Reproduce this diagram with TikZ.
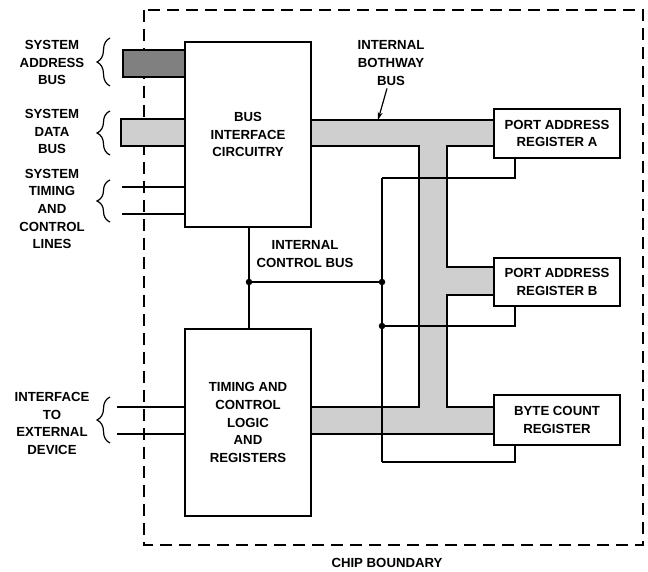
\documentclass[tikz,border=0pt]{standalone}
\usepackage{fontspec}
\setmainfont{Liberation Sans}
\usetikzlibrary{arrows.meta,decorations.pathreplacing}
\begin{document}
\begin{tikzpicture}[x=1pt,y=-1pt,
  box/.style={draw, fill=white, line width=1.4pt, inner sep=0pt, minimum width=126pt},
  lbl/.style={font=\bfseries\fontsize{13.2}{17.6}\selectfont, align=center, inner sep=0pt},
  wire/.style={line width=1.3pt},
  busline/.style={line width=1.1pt},
  brc/.style={line width=1.2pt, decorate, decoration={brace, amplitude=13pt}},
  jdot/.style={circle, fill, inner sep=0pt, minimum size=6.5pt},
  boundary/.style={line width=1.2pt, dash pattern=on 12pt off 7pt}
]
\useasboundingbox (0,0) rectangle (648,572);
% chip boundary
\draw[boundary] (144,10) rectangle (643,545);
% boxes (positions)
\path (248,134.5) node[box, minimum height=185pt, draw=none, fill=none] (bic) {};
\path (248,422.5) node[box, minimum height=187pt, draw=none, fill=none] (tcl) {};
\path (557,133.5) node[box, minimum height=49pt, draw=none, fill=none] (pa) {};
\path (557,282) node[box, minimum height=48pt, draw=none, fill=none] (pb) {};
\path (557,420) node[box, minimum height=50pt, draw=none, fill=none] (bc) {};
% levels
\coordinate (by1) at (0,120);
\coordinate (by2) at (0,146);
\coordinate (vx1) at (419,0);
\coordinate (vx2) at (447,0);
\coordinate (pb1) at (0,267);
\coordinate (pb2) at (0,295);
\coordinate (bc1) at (0,407);
\coordinate (bc2) at (0,434);
% internal bothway bus
\filldraw[busline, fill=black!19]
  (bic.east |- by1) -- (pa.west |- by1) -- (pa.west |- by2) -- (vx2 |- by2)
  -- (vx2 |- pb1) -- (pb.west |- pb1) -- (pb.west |- pb2) -- (vx2 |- pb2)
  -- (vx2 |- bc1) -- (bc.west |- bc1) -- (bc.west |- bc2) -- (tcl.east |- bc2)
  -- (tcl.east |- bc1) -- (vx1 |- bc1) -- (vx1 |- by2) -- (bic.east |- by2) -- cycle;
% system buses
\coordinate (ab1) at (123,50);
\coordinate (ab2) at (0,77);
\filldraw[busline, fill=black!50] (ab1) rectangle (bic.west |- ab2);
\coordinate (db1) at (121,119);
\coordinate (db2) at (0,146);
\filldraw[busline, fill=black!19] (db1) rectangle (bic.west |- db2);
% timing lines
\coordinate (s1) at (122,187);
\coordinate (s2) at (122,214);
\draw[wire] (s1) -- (s1 -| bic.west);
\draw[wire] (s2) -- (s2 -| bic.west);
% interface lines
\coordinate (e1) at (117,407);
\coordinate (e2) at (117,434);
\draw[wire] (e1) -- (e1 -| tcl.west);
\draw[wire] (e2) -- (e2 -| tcl.west);
% control bus
\coordinate (d1) at (249,282);
\coordinate (d2) at (382,282);
\coordinate (d3) at (382,326);
\coordinate (c1) at (382,178);
\coordinate (c4) at (382,462);
\coordinate (xr) at (515,0);
\draw[wire] (d1 |- bic.south) -- (d1 |- tcl.north);
\draw[wire] (d1) -- (d2);
\draw[wire] (c1) -- (c4);
\draw[wire] (c1) -- (c1 -| xr) -- (xr |- pa.south);
\draw[wire] (d3) -- (d3 -| xr) -- (xr |- pb.south);
\draw[wire] (c4) -- (c4 -| xr) -- (xr |- bc.south);
\node[jdot] at (d1) {};
\node[jdot] at (d2) {};
\node[jdot] at (d3) {};
% boxes drawn
\node[box, minimum height=185pt, lbl] at (bic) {BUS\\INTERFACE\\CIRCUITRY};
\node[box, minimum height=187pt, lbl] at (tcl) {TIMING AND\\CONTROL\\LOGIC\\AND\\REGISTERS};
\node[box, minimum height=49pt, lbl] at (pa) {PORT ADDRESS\\REGISTER A};
\node[box, minimum height=48pt, lbl] at (pb) {PORT ADDRESS\\REGISTER B};
\node[box, minimum height=50pt, lbl] at (bc) {BYTE COUNT\\REGISTER};
% braces
\draw[brc] (110,86) -- (110,38);
\draw[brc] (110,155) -- (110,111);
\draw[brc] (110,222) -- (110,180);
\draw[brc] (110,443) -- (110,397);
% labels
\node[lbl] (la) at (52,62.5) {SYSTEM\\ADDRESS\\BUS};
\node[lbl] (ld) at (52,131.5) {SYSTEM\\DATA\\BUS};
\node[lbl] (lt) at (52,209) {SYSTEM\\TIMING\\AND\\CONTROL\\LINES};
\node[lbl] (li) at (52,423.5) {INTERFACE\\TO\\EXTERNAL\\DEVICE};
\node[lbl] (lc) at (305,254) {INTERNAL\\CONTROL BUS};
\node[lbl] (lb) at (391,63) {INTERNAL\\BOTHWAY\\BUS};
\node[lbl] (lchip) at (387,563) {CHIP BOUNDARY};
\coordinate (bt) at (378,120);
\draw[line width=1.2pt, -{Stealth[length=8pt,width=5pt]}] (lb.south) ++(-4,3) -- (bt);
\end{tikzpicture}
\end{document}
